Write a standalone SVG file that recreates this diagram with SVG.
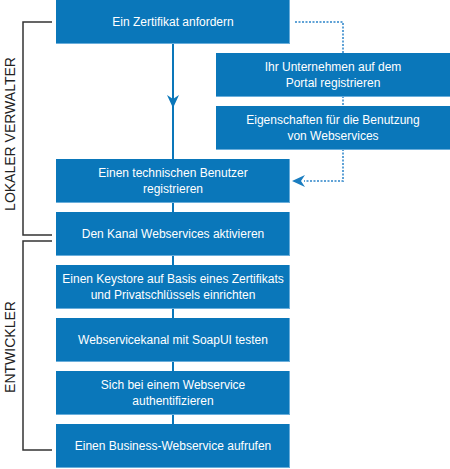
<svg xmlns="http://www.w3.org/2000/svg" width="450" height="469" viewBox="0 0 450 469">
<style>
.box{fill:#0a77ba}
.edge{fill:#6aaedb}
.t{font-family:"Liberation Sans",Arial,sans-serif;font-size:12px;fill:#ffffff;text-anchor:middle}
.lab{font-family:"Liberation Sans",Arial,sans-serif;font-size:14px;fill:#222222;text-anchor:middle}
.flow{stroke:#0a77ba;stroke-width:2;fill:none}
.dot{stroke:#5fa2d6;stroke-width:2;stroke-dasharray:2 1.5;fill:none}
.br{stroke:#333333;stroke-width:1.5;fill:none}
</style>
<defs>
<marker id="ah" viewBox="0 0 14 12" refX="13" refY="6" markerWidth="14" markerHeight="12" markerUnits="userSpaceOnUse" orient="auto">
<path d="M0,0 L13,6 L0,12 L4,6 Z" fill="#0a77ba"/>
</marker>
<marker id="ahd" viewBox="0 0 14 12" refX="13" refY="6" markerWidth="14" markerHeight="12" markerUnits="userSpaceOnUse" orient="auto">
<path d="M0,0 L13,6 L0,12 L4,6 Z" fill="#1a7dc0"/>
</marker>
</defs>
<rect width="450" height="469" fill="#ffffff"/>
<g id="brackets">
<path class="br" d="M52,22 H23 V235 H52"/>
<path class="br" d="M52,241 H23 V450 H52"/>
<text class="lab" transform="translate(15,134) rotate(-90)">LOKALER VERWALTER</text>
<text class="lab" transform="translate(15,347) rotate(-90)">ENTWICKLER</text>
</g>
<g id="connectors">
<path class="flow" d="M173,43 V159"/>
<path class="flow" d="M173,43 V108" marker-end="url(#ah)"/>
<path class="flow" d="M173,202 V212 M173,255 V265 M173,308 V318 M173,361 V371 M173,414 V424"/>
<path class="dot" d="M295,22 H343 V53 M343,96 V106 M343,149 V181 H304"/>
<path d="M292,181 L305,175 L301,181 L305,187 Z" fill="#1a7dc0"/>
</g>
<g id="n1"><rect class="edge" x="56" y="0" width="234" height="44"/><rect class="box" x="56" y="0" width="233" height="43"/><text class="t" x="173" y="26">Ein Zertifikat anfordern</text></g>
<g id="n2"><rect class="edge" x="216" y="53" width="234" height="44"/><rect class="box" x="216" y="53" width="234" height="43"/><text class="t" x="333" y="71">Ihr Unternehmen auf dem</text><text class="t" x="333" y="87">Portal registrieren</text></g>
<g id="n3"><rect class="edge" x="216" y="106" width="234" height="44"/><rect class="box" x="216" y="106" width="234" height="43"/><text class="t" x="333" y="124">Eigenschaften für die Benutzung</text><text class="t" x="333" y="140">von Webservices</text></g>
<g id="n4"><rect class="edge" x="56" y="159" width="234" height="44"/><rect class="box" x="56" y="159" width="233" height="43"/><text class="t" x="173" y="177">Einen technischen Benutzer</text><text class="t" x="173" y="193">registrieren</text></g>
<g id="n5"><rect class="edge" x="56" y="212" width="234" height="44"/><rect class="box" x="56" y="212" width="233" height="43"/><text class="t" x="173" y="238">Den Kanal Webservices aktivieren</text></g>
<g id="n6"><rect class="edge" x="56" y="265" width="234" height="44"/><rect class="box" x="56" y="265" width="233" height="43"/><text class="t" x="173" y="283">Einen Keystore auf Basis eines Zertifikats</text><text class="t" x="173" y="299">und Privatschlüssels einrichten</text></g>
<g id="n7"><rect class="edge" x="56" y="318" width="234" height="44"/><rect class="box" x="56" y="318" width="233" height="43"/><text class="t" x="173" y="344">Webservicekanal mit SoapUI testen</text></g>
<g id="n8"><rect class="edge" x="56" y="371" width="234" height="44"/><rect class="box" x="56" y="371" width="233" height="43"/><text class="t" x="173" y="389">Sich bei einem Webservice</text><text class="t" x="173" y="405">authentifizieren</text></g>
<g id="n9"><rect class="edge" x="56" y="424" width="234" height="44"/><rect class="box" x="56" y="424" width="233" height="43"/><text class="t" x="173" y="450">Einen Business-Webservice aufrufen</text></g>
</svg>
